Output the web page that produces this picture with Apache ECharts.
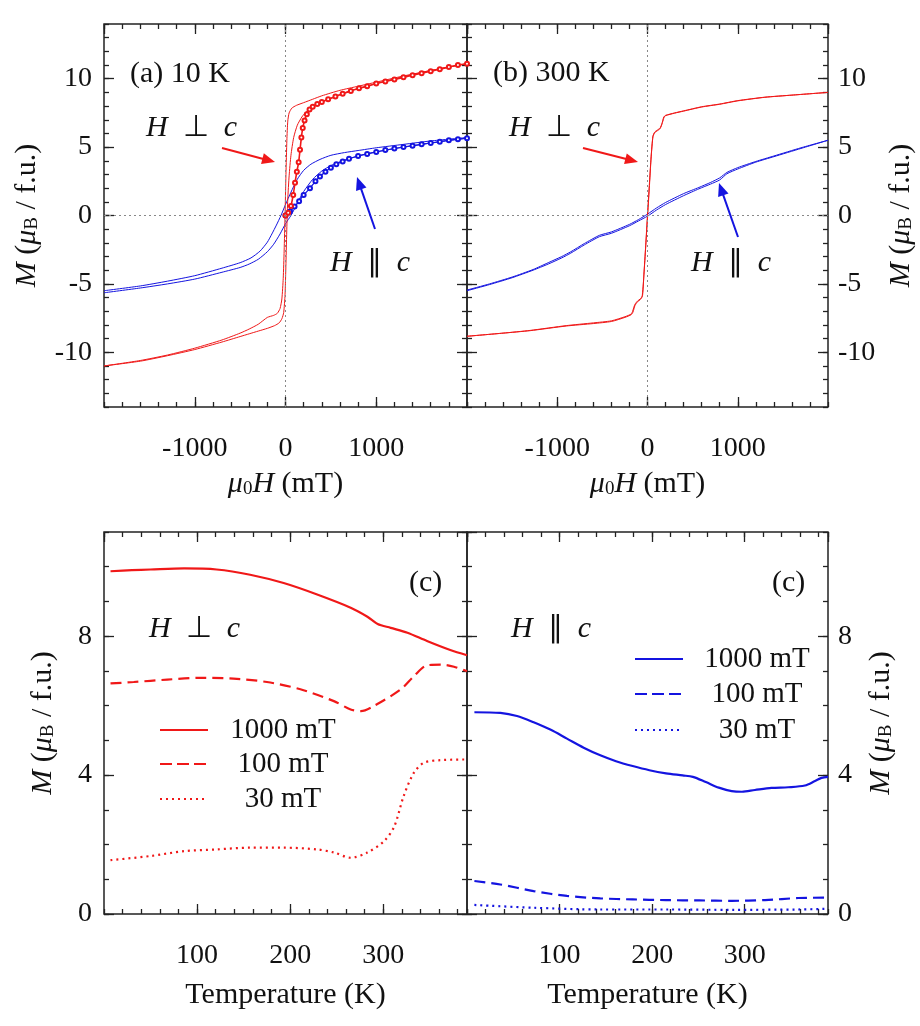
<!DOCTYPE html>
<html><head><meta charset="utf-8">
<script src="https://cdn.jsdelivr.net/npm/echarts@6/dist/echarts.min.js"></script>
<style>html,body{margin:0;padding:0;background:#fff}#c{width:920px;height:1026px}</style>
</head><body><div id="c"></div>
<script>
// ---------- data (H in mT, M in muB/f.u.; T in K) ----------
// (a) 10 K, H perp c (red)
const a10PerpDown = [[2000,11.1],[1600,10.6],[1300,10.2],[1000,9.75],[800,9.45],[600,9.15],[400,8.75],[300,8.5],[200,8.25],[120,8.05],[70,7.85],[40,7.5],[25,6.9],[15,5.5],[5,3.0],[-5,0.0],[-15,-2.6],[-25,-4.6],[-40,-6.1],[-60,-6.8],[-90,-7.15],[-130,-7.3],[-200,-7.45],[-300,-7.95],[-400,-8.3],[-500,-8.6],[-700,-9.1],[-1000,-9.7],[-1300,-10.2],[-1600,-10.6],[-2000,-11.0]];
const a10PerpUp = [[-2000,-11.0],[-1600,-10.65],[-1300,-10.25],[-1000,-9.8],[-700,-9.25],[-500,-8.85],[-400,-8.65],[-300,-8.45],[-200,-8.25],[-120,-8.05],[-70,-7.85],[-40,-7.55],[-20,-7.1],[-5,-5.8],[5,-3.5],[15,-0.8],[25,1.2],[40,2.9],[60,4.4],[90,5.7],[130,6.6],[180,7.2],[230,7.6],[300,7.95],[400,8.3],[550,8.7],[700,9.1],[900,9.45],[1000,9.65],[1300,10.15],[1600,10.6],[2000,11.1]];
const a10PerpVirgin = [[0,0],[30,0.2],[60,0.7],[85,1.5],[105,2.4],[125,3.2],[145,3.9],[160,4.8],[175,5.7],[190,6.4],[210,6.95],[235,7.4],[265,7.75],[300,7.95],[350,8.15],[400,8.3],[470,8.5],[550,8.7],[630,8.9],[720,9.1],[810,9.3],[900,9.45],[1000,9.65],[1100,9.8],[1200,9.95],[1300,10.1],[1400,10.25],[1500,10.4],[1600,10.55],[1700,10.7],[1800,10.85],[1900,11.0],[2000,11.1]];
// (a) 10 K, H || c (blue)
const a10ParDown = [[2000,5.7],[1600,5.45],[1300,5.2],[1000,4.95],[800,4.75],[650,4.6],[500,4.4],[380,4.1],[280,3.75],[200,3.3],[130,2.65],[60,1.7],[0,0.8],[-50,0.0],[-100,-0.7],[-150,-1.35],[-200,-1.95],[-280,-2.6],[-380,-3.1],[-500,-3.45],[-700,-3.85],[-1000,-4.4],[-1300,-4.8],[-1600,-5.15],[-2000,-5.5]];
const a10ParUp = [[-2000,-5.65],[-1600,-5.3],[-1300,-5.0],[-1000,-4.65],[-700,-4.15],[-500,-3.8],[-400,-3.55],[-300,-3.2],[-200,-2.65],[-130,-2.1],[-60,-1.35],[0,-0.6],[60,0.0],[100,0.5],[150,1.15],[200,1.75],[300,2.65],[400,3.25],[500,3.65],[650,4.05],[800,4.35],[1000,4.65],[1300,5.0],[1600,5.3],[2000,5.65]];
const a10ParVirgin = [[0,0],[50,0.3],[100,0.65],[150,1.05],[200,1.5],[270,2.0],[330,2.5],[380,2.85],[440,3.2],[500,3.5],[560,3.75],[630,3.95],[700,4.15],[800,4.35],[900,4.5],[1000,4.65],[1100,4.78],[1200,4.9],[1300,5.0],[1400,5.1],[1500,5.2],[1600,5.3],[1700,5.4],[1800,5.5],[1900,5.58],[2000,5.65]];
// (b) 300 K, H perp c (red)
const b300PerpDown = [[2000,9.0],[1600,8.8],[1300,8.65],[1000,8.4],[800,8.15],[600,7.95],[400,7.65],[300,7.5],[200,7.32],[180,7.2],[160,6.7],[140,6.4],[110,6.25],[80,6.1],[60,5.8],[40,4.2],[20,2.0],[0,-0.2],[-20,-2.3],[-40,-4.3],[-55,-5.85],[-80,-6.1],[-110,-6.25],[-140,-6.5],[-165,-7.0],[-180,-7.2],[-250,-7.4],[-400,-7.7],[-600,-7.85],[-900,-8.05],[-1300,-8.4],[-1600,-8.6],[-2000,-8.83]];
const b300PerpUp = [[-2000,-8.83],[-1600,-8.6],[-1300,-8.42],[-900,-8.08],[-600,-7.9],[-400,-7.75],[-250,-7.45],[-180,-7.25],[-160,-7.05],[-140,-6.6],[-110,-6.3],[-80,-6.15],[-60,-5.95],[-40,-4.4],[-20,-2.2],[0,0.1],[20,2.2],[40,4.3],[60,5.75],[80,6.05],[110,6.2],[140,6.35],[165,6.8],[185,7.2],[200,7.3],[300,7.48],[400,7.63],[600,7.93],[800,8.13],[1000,8.38],[1300,8.64],[1600,8.8],[2000,9.0]];
// (b) 300 K, H || c (blue)
const b300ParDown = [[2000,5.5],[1700,4.95],[1400,4.35],[1200,3.95],[1000,3.5],[880,3.15],[800,2.75],[700,2.42],[570,2.05],[400,1.6],[200,0.95],[100,0.55],[0,0.1],[-100,-0.3],[-200,-0.65],[-400,-1.2],[-533,-1.45],[-700,-2.05],[-850,-2.65],[-950,-3.0],[-1100,-3.45],[-1268,-3.95],[-1500,-4.5],[-1750,-5.0],[-2000,-5.45]];
const b300ParUp = [[-2000,-5.5],[-1750,-5.05],[-1500,-4.55],[-1268,-4.0],[-1100,-3.55],[-950,-3.1],[-850,-2.75],[-700,-2.15],[-533,-1.55],[-400,-1.3],[-200,-0.75],[-100,-0.4],[0,-0.05],[100,0.4],[200,0.8],[400,1.45],[570,1.95],[700,2.3],[800,2.6],[880,3.05],[1000,3.4],[1200,3.9],[1400,4.3],[1700,4.9],[2000,5.5]];
// (c) M(T), H perp c
const cPerp1000 = [[7,9.87],[30,9.9],[50,9.92],[86,9.95],[121,9.92],[157,9.77],[193,9.53],[229,9.2],[265,8.82],[283,8.56],[294,8.35],[308,8.24],[326,8.1],[347,7.86],[372,7.6],[390,7.45]];
const cPerp100 = [[7,6.64],[32,6.68],[68,6.75],[104,6.8],[139,6.78],[175,6.68],[211,6.47],[247,6.13],[265,5.89],[276,5.84],[290,5.99],[319,6.47],[333,6.85],[347,7.16],[362,7.18],[376,7.12],[390,6.99]];
const cPerp30 = [[7,1.55],[50,1.67],[86,1.81],[121,1.86],[157,1.91],[193,1.91],[229,1.86],[247,1.77],[265,1.62],[283,1.77],[301,2.1],[312,2.53],[322,3.4],[333,4.07],[344,4.36],[362,4.43],[390,4.45]];
// (c) M(T), H || c
const cPar1000 = [[8,5.81],[36,5.79],[54,5.7],[72,5.52],[90,5.31],[108,5.05],[126,4.79],[144,4.57],[161,4.4],[179,4.26],[197,4.14],[215,4.05],[233,3.99],[244,3.95],[258,3.8],[272,3.64],[286,3.54],[297,3.52],[311,3.57],[329,3.63],[347,3.65],[365,3.7],[376,3.83],[383,3.92],[390,3.95]];
const cPar100 = [[8,0.95],[36,0.85],[72,0.66],[108,0.52],[144,0.45],[179,0.42],[215,0.4],[251,0.39],[286,0.38],[322,0.4],[358,0.46],[390,0.47]];
const cPar30 = [[8,0.26],[72,0.18],[144,0.13],[215,0.13],[286,0.12],[358,0.13],[390,0.15]];
// tick labels / texts
const yTicksMH = [-10,-5,0,5,10];
const legendLabels = ['1000 mT','100 mT','30 mT'];
const panelTitles = ['(a) 10 K','(b) 300 K','(c)','(c)'];

// ---------- style ----------
const FONT = '"Liberation Serif","Times New Roman",serif';
const RED = '#f01818', BLUE = '#1414e0', INK = '#111';
const FS = 28;

const grids = [
  {left:104, top:24, width:363, height:383},
  {left:467, top:24, width:361, height:383},
  {left:104, top:532, width:363, height:382},
  {left:467, top:532, width:361, height:382}
].map(g => Object.assign(g, {show:true, borderColor:'#222', borderWidth:1.5, backgroundColor:'rgba(0,0,0,0)'}));

const richName = {
  it:{fontStyle:'italic', fontFamily:FONT, fontSize:30, color:INK},
  sub:{fontFamily:FONT, fontSize:19, color:INK, verticalAlign:'bottom'}
};
const mName = '{it|M} ({it|μ}{sub|B} / f.u.)';

function axis(gi, pos, o) {
  const a = {
    type:'value', gridIndex:gi, position:pos, min:o.min, max:o.max,
    axisLine:{show:false, onZero:false}, splitLine:{show:false},
    axisTick:{show:true, inside:true, length:o.len, lineStyle:{color:'#222', width:1.3}},
    axisLabel:{show:!!o.labels, margin:o.margin||10, fontFamily:FONT, fontSize:FS, color:INK,
      formatter:v => String(v),
      showMinLabel:o.showMin!==false, showMaxLabel:o.showMax!==false}
  };
  if (o.interval) a.interval = o.interval;
  if (o.custom) { a.axisTick.customValues = o.custom; a.axisLabel.customValues = o.custom; }
  if (o.name) {
    a.name = o.name; a.nameLocation = 'middle'; a.nameGap = o.nameGap;
    a.nameRotate = o.nameRotate;
    a.nameTextStyle = {fontFamily:FONT, fontSize:30, color:INK, rich:richName};
  }
  return a;
}

const xAxes = [], yAxes = [];
for (let gi = 0; gi < 4; gi++) {
  const top = gi < 2;
  const xr = top ? {min:-2000, max:2000, major:1000, minor:200} : {min:0, max:390, major:100, minor:20};
  const xname = top ? '{it|μ}{sub|0}{it|H} (mT)' : 'Temperature (K)';
  xAxes.push(axis(gi,'bottom',{min:xr.min,max:xr.max,interval:xr.major,len:10,labels:true,margin:28,
    showMin:false,showMax:false,name:xname,nameGap:top?62:66}));
  xAxes.push(axis(gi,'top',{min:xr.min,max:xr.max,interval:xr.major,len:10}));
  xAxes.push(axis(gi,'bottom',{min:xr.min,max:xr.max,interval:xr.minor,len:5}));
  xAxes.push(axis(gi,'top',{min:xr.min,max:xr.max,interval:xr.minor,len:5}));

  const right = gi % 2 === 1;
  const lab = right ? 'right' : 'left', oth = right ? 'left' : 'right';
  const yr = top ? {min:-14, max:14, custom:yTicksMH, minor:1} : {min:0, max:11, major:4, minor:1};
  const ng = top ? (right ? 58 : 62) : (right ? 38 : 46);
  yAxes.push(axis(gi,lab,{min:yr.min,max:yr.max,interval:yr.major,custom:yr.custom,len:10,labels:true,
    margin:right?10:12,showMin:true,showMax:top,name:mName,nameGap:ng,nameRotate:90}));
  yAxes.push(axis(gi,oth,{min:yr.min,max:yr.max,interval:yr.major,custom:yr.custom,len:10}));
  yAxes.push(axis(gi,lab,{min:yr.min,max:yr.max,interval:yr.minor,len:5}));
  yAxes.push(axis(gi,oth,{min:yr.min,max:yr.max,interval:yr.minor,len:5}));
}

function line(gi, data, color, opt) {
  opt = opt || {};
  return {
    type:'line', xAxisIndex:gi*4, yAxisIndex:gi*4, data:data,
    showSymbol:!!opt.symbol, symbol:opt.symbol||'none', symbolSize:opt.symbolSize||5,
    smooth:opt.smooth!=null?opt.smooth:0.2,
    lineStyle:{color:color, width:opt.width||1, type:opt.dash||'solid'},
    itemStyle:{color:color, borderColor:color, borderWidth:1},
    animation:false, silent:true, z:opt.z||2,
    markLine:opt.zero ? {silent:true, symbol:'none', label:{show:false},
      lineStyle:{color:'#888', type:[2,3], width:1}, data:[{xAxis:0},{yAxis:0}], animation:false} : undefined
  };
}

const series = [
  line(0, a10ParDown, BLUE, {zero:true}),
  line(0, a10ParUp, BLUE),
  line(0, a10ParVirgin, BLUE, {symbol:'emptyCircle', symbolSize:4, width:1.2, z:3}),
  line(0, a10PerpDown, RED),
  line(0, a10PerpUp, RED),
  line(0, a10PerpVirgin, RED, {symbol:'emptyCircle', symbolSize:4, width:1.6, z:3}),
  line(1, b300ParDown, BLUE, {zero:true}),
  line(1, b300ParUp, BLUE),
  line(1, b300PerpDown, RED),
  line(1, b300PerpUp, RED),
  line(2, cPerp1000, RED, {width:2.2, smooth:0.3}),
  line(2, cPerp100, RED, {width:2.2, dash:[11,6], smooth:0.3}),
  line(2, cPerp30, RED, {width:2.2, dash:[2,4], smooth:0.3}),
  line(3, cPar1000, BLUE, {width:2.2, smooth:0.3}),
  line(3, cPar100, BLUE, {width:2.2, dash:[11,6], smooth:0.3}),
  line(3, cPar30, BLUE, {width:2.2, dash:[2,4], smooth:0.3})
];

// ---------- annotations ----------
function txt(x, y, s, opt) {
  opt = opt || {};
  return {type:'text', silent:true, z:10, style:{x:x, y:y, text:s, fontFamily:FONT, fontSize:opt.fs||30,
    fill:INK, align:opt.align||'left', verticalAlign:'middle', rich:{i:{fontStyle:'italic', fontFamily:FONT, fontSize:opt.fs||30, fill:INK}}}};
}
function arrow(x1, y1, x2, y2, color) {
  const dx = x2-x1, dy = y2-y1, L = Math.hypot(dx,dy), ux = dx/L, uy = dy/L;
  const hl = 13, hw = 5.5, bx = x2-ux*hl, by = y2-uy*hl;
  return [
    {type:'line', silent:true, z:10, shape:{x1:x1,y1:y1,x2:bx+ux*2,y2:by+uy*2}, style:{stroke:color, lineWidth:2}},
    {type:'polygon', silent:true, z:10, shape:{points:[[x2,y2],[bx-uy*hw,by+ux*hw],[bx+uy*hw,by-ux*hw]]}, style:{fill:color}}
  ];
}
function legend(x1, x2, ys, xc, color) {
  const dashes = [null, [12,5], [2,4]];
  const out = [];
  ys.forEach((y, i) => {
    out.push({type:'line', silent:true, z:10, shape:{x1:x1,y1:y,x2:x2,y2:y},
      style:{stroke:color, lineWidth:2.2, lineDash:dashes[i]}});
    out.push(txt(xc, y, legendLabels[i], {align:'center', fs:29}));
  });
  return out;
}
const perp = '{i|H}  ⊥  {i|c}', par = '{i|H}  ∥  {i|c}';
const graphics = [].concat(
  [txt(130, 74, panelTitles[0]), txt(493, 73, panelTitles[1]),
   txt(146, 128, perp), txt(330, 263, par), txt(509, 128, perp), txt(691, 263, par),
   txt(409, 583, panelTitles[2]), txt(772, 583, panelTitles[3]),
   txt(149, 629, perp), txt(511, 629, par)],
  arrow(222, 148, 275, 162, RED), arrow(375, 229, 357, 177, BLUE),
  arrow(583, 148, 638, 162, RED), arrow(738, 237, 719, 183, BLUE),
  legend(160, 208, [730, 764, 799], 283, RED),
  legend(635, 683, [659, 694, 730], 757, BLUE)
);

const chart = echarts.init(document.getElementById('c'), null, {renderer:'canvas'});
chart.setOption({
  animation:false, backgroundColor:'#fff',
  grid:grids, xAxis:xAxes, yAxis:yAxes, series:series, graphic:graphics
});
</script></body></html>
